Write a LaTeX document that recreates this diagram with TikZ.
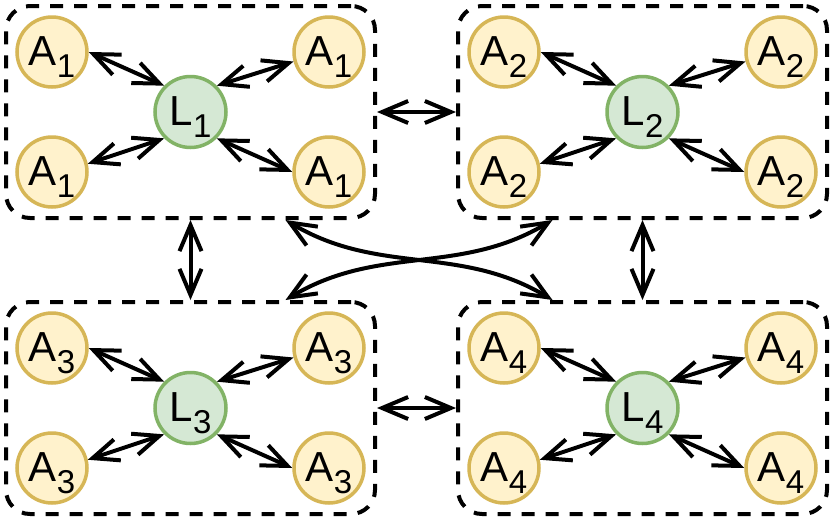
\documentclass[tikz,border=0pt]{standalone}
\usepackage{fontspec}
\setmainfont{Liberation Sans}
\usetikzlibrary{arrows.meta}

\definecolor{agentfill}{HTML}{FFF2CC}
\definecolor{agentline}{HTML}{D6B656}
\definecolor{leadfill}{HTML}{D5E8D4}
\definecolor{leadline}{HTML}{82B366}

\newcommand{\sublab}[2]{#1\raisebox{-12pt}{\fontsize{33}{33}\selectfont #2}}

\tikzset{
  agent/.style={circle, draw=agentline, fill=agentfill, line width=3.5pt,
    minimum size=70pt, inner sep=0pt, text height=38pt, text depth=12pt,
    font=\fontsize{42}{42}\selectfont},
  leader/.style={agent, draw=leadline, fill=leadfill, minimum size=71pt},
  link/.style={{Straight Barb[length=26pt,width=22pt]}-{Straight Barb[length=26pt,width=22pt]},
    line width=4pt},
  group/.style={draw, line width=4pt, dash pattern=on 13pt off 11pt,
    rounded corners=24pt, minimum width=369pt, minimum height=212pt, inner sep=0pt}
}

\begin{document}
\begin{tikzpicture}[x=1pt, y=-1pt]
\useasboundingbox (0,0) rectangle (830,523);

% four clusters, each with one leader and four agents
\foreach \i/\cx/\cy in {1/190.5/112, 2/642.5/112, 3/190.5/408, 4/642.5/408} {
  \node[group] (g\i) at (\cx,\cy) {};
  \node[leader] (l\i) at (\cx,\cy) {\sublab{L}{\i}};
  \node[agent] (a\i1) at (\cx-138.5,\cy-60) {\sublab{A}{\i}};
  \node[agent] (a\i2) at (\cx+138.5,\cy-60) {\sublab{A}{\i}};
  \node[agent] (a\i3) at (\cx-138.5,\cy+60) {\sublab{A}{\i}};
  \node[agent] (a\i4) at (\cx+138.5,\cy+60) {\sublab{A}{\i}};
  \draw[link] (a\i1.east) -- (l\i.north west);
  \draw[link] (a\i2.195) -- (l\i.north east);
  \draw[link] (a\i3.13) -- (l\i.south west);
  \draw[link] (a\i4.west) -- (l\i.south east);
}

% links between clusters
\draw[link] (g1.east) -- (g2.west);
\draw[link] (g3.east) -- (g4.west);
\draw[link] (g1.south) -- (g3.north);
\draw[link] (g2.south) -- (g4.north);
\draw[link] ([xshift=95pt]g1.south) to[out=-31, in=149] ([xshift=-90pt]g4.north);
\draw[link] ([xshift=-90pt]g2.south) to[out=-149, in=31] ([xshift=95pt]g3.north);
\end{tikzpicture}
\end{document}
